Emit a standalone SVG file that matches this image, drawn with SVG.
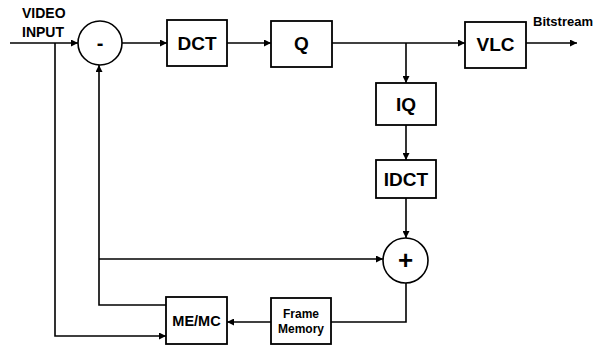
<svg xmlns="http://www.w3.org/2000/svg" width="612" height="347" viewBox="0 0 612 347">
  <style>
    .box { fill: #fff; stroke: #000; stroke-width: 1.8; }
    .sum { fill: #fff; stroke: #000; stroke-width: 1.6; }
    .wire { fill: none; stroke: #000; stroke-width: 1.6; }
    .lbl { font-family: "Liberation Sans", Arial, sans-serif; font-weight: bold; fill: #000; text-anchor: middle; }
    .big { font-size: 19px; }
    .mid { font-size: 14.5px; }
    .sml { font-size: 12px; }
    .io { font-family: "Liberation Sans", Arial, sans-serif; font-weight: bold; fill: #000; }
  </style>
  <defs>
    <marker id="arrow" viewBox="0 0 10 10" refX="10" refY="5" markerWidth="8" markerHeight="7" markerUnits="userSpaceOnUse" orient="auto">
      <path d="M0,0 L10,5 L0,10 z" fill="#000"/>
    </marker>
  </defs>

  <!-- connectors -->
  <g id="connectors" class="wire">
    <path d="M10,43 H78" marker-end="url(#arrow)"/>
    <path d="M122,43 H167" marker-end="url(#arrow)"/>
    <path d="M227,43 H271" marker-end="url(#arrow)"/>
    <path d="M332,43 H465" marker-end="url(#arrow)"/>
    <path d="M406,43 V83" marker-end="url(#arrow)"/>
    <path d="M526,43 H577" marker-end="url(#arrow)"/>
    <path d="M406,125 V160" marker-end="url(#arrow)"/>
    <path d="M406,198 V238" marker-end="url(#arrow)"/>
    <path d="M406,283 V322 H271" marker-end="url(#arrow)"/>
    <path d="M271,322 H227" marker-end="url(#arrow)"/>
    <path d="M55,43 V336 H166" marker-end="url(#arrow)"/>
    <path d="M166,305 H99 V65" marker-end="url(#arrow)"/>
    <path d="M99,259 H383" marker-end="url(#arrow)"/>
  </g>

  <text class="io" x="22" y="18" font-size="14">VIDEO</text>
  <text class="io" x="22" y="37" font-size="14">INPUT</text>
  <text class="io" x="533" y="26" font-size="13">Bitstream</text>

  <g id="subtract">
    <circle class="sum" cx="100" cy="43" r="22"/>
    <text class="lbl" x="100" y="50" font-size="20">-</text>
  </g>
  <g id="dct">
    <rect class="box" x="167" y="20" width="60" height="46"/>
    <text class="lbl big" x="197" y="50">DCT</text>
  </g>
  <g id="q">
    <rect class="box" x="271" y="21" width="61" height="46"/>
    <text class="lbl big" x="301.5" y="50">Q</text>
  </g>
  <g id="vlc">
    <rect class="box" x="465" y="22" width="61" height="46"/>
    <text class="lbl big" x="495.5" y="51">VLC</text>
  </g>
  <g id="iq">
    <rect class="box" x="376" y="83" width="60" height="42"/>
    <text class="lbl big" x="406" y="111">IQ</text>
  </g>
  <g id="idct">
    <rect class="box" x="376" y="160" width="60" height="38"/>
    <text class="lbl big" x="406" y="186">IDCT</text>
  </g>
  <g id="add">
    <circle class="sum" cx="405.5" cy="260.5" r="22.5"/>
    <text class="lbl" x="405.5" y="269" font-size="26">+</text>
  </g>
  <g id="frame-memory">
    <rect class="box" x="271" y="298" width="60" height="46"/>
    <text class="lbl sml" x="301" y="318">Frame</text>
    <text class="lbl sml" x="301" y="333">Memory</text>
  </g>
  <g id="memc">
    <rect class="box" x="166" y="297" width="61" height="47"/>
    <text class="lbl mid" x="196.5" y="326">ME/MC</text>
  </g>
</svg>
